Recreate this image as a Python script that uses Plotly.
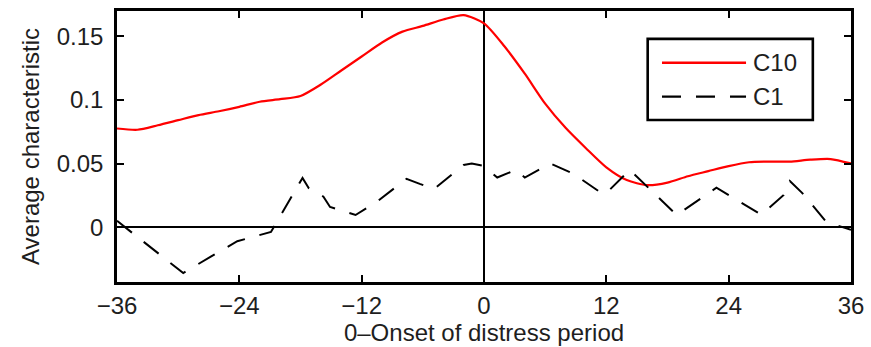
import plotly.graph_objects as go

# Months relative to the onset of the distress period
months_c10 = [-36, -34, -32, -30, -28, -26, -24, -22, -20, -18, -16, -14, -12,
              -10, -8, -6, -4, -2, 0, 2, 4, 6, 8, 10, 12, 14, 16, 18, 20, 22,
              24, 26, 28, 30, 32, 34, 36]
c10_values = [0.0775, 0.0765, 0.080, 0.084, 0.088, 0.091, 0.0945, 0.0985,
              0.1005, 0.103, 0.112, 0.123, 0.134, 0.145, 0.1535, 0.158, 0.163,
              0.1665, 0.160, 0.142, 0.1205, 0.097, 0.078, 0.062, 0.047, 0.037,
              0.033, 0.035, 0.040, 0.044, 0.048, 0.051, 0.0515, 0.0515, 0.053,
              0.0535, 0.050]

months_c1 = [-36, -29.5, -26.8, -24.2, -20.9, -17.8, -17.2, -15.75, -15.1,
             -13.3, -12.6, -10.5, -7.6, -6.3, -4.9, -2.0, -1.2, 0, 1.3, 3.1,
             4.0, 6.5, 8.7, 11.3, 11.9, 14.3, 18.9, 22.8, 27.2, 29.4, 30.0,
             31.2, 33.6, 36]
c1_values = [0.005, -0.036, -0.023, -0.011, -0.0037, 0.0387, 0.0308, 0.024,
             0.0159, 0.011, 0.0096, 0.020, 0.038, 0.034, 0.030, 0.0488, 0.050,
             0.048, 0.039, 0.045, 0.039, 0.050, 0.0423, 0.028, 0.026, 0.045,
             0.0096, 0.031, 0.0098, 0.0253, 0.0363, 0.027, 0.004, -0.002]

x_ticks = [-36, -24, -12, 0, 12, 24, 36]
y_ticks = [0, 0.05, 0.1, 0.15]
y_tick_text = ["0", "0.05", "0.1", "0.15"]

FONT = "Liberation Sans, Arial, Helvetica, sans-serif"
TXT = "#1e1e1e"
FS = 24
C10_COLOR = "#ff0000"
C1_DASH = "19px,15px"

fig = go.Figure()
fig.add_trace(go.Scatter(
    x=months_c10, y=c10_values, mode="lines", name="C10",
    line=dict(color=C10_COLOR, width=2.2, shape="spline", smoothing=0.7),
    showlegend=False))
fig.add_trace(go.Scatter(
    x=months_c1, y=c1_values, mode="lines", name="C1",
    line=dict(color="black", width=2, dash=C1_DASH),
    showlegend=False))

axis_common = dict(
    showgrid=False, showline=True, linecolor="black", linewidth=2.6,
    mirror="ticks", ticks="inside", ticklen=7, tickwidth=2.4,
    tickcolor="black", zeroline=True, zerolinecolor="black",
    zerolinewidth=2.4, tickfont=dict(family=FONT, size=FS, color=TXT),
)

fig.update_xaxes(
    range=[-36, 36], tickvals=x_ticks, ticklabelstandoff=0,
    title=dict(text="0\u2013Onset of distress period",
               font=dict(family=FONT, size=FS, color=TXT), standoff=2),
    **axis_common)
fig.update_yaxes(
    range=[-0.043, 0.1697], tickvals=y_ticks, ticktext=y_tick_text,
    ticklabelstandoff=6,
    title=dict(text="Average characteristic",
               font=dict(family=FONT, size=FS, color=TXT), standoff=11),
    **axis_common)

# Legend box drawn in paper coordinates
legend_shapes = [
    dict(type="rect", xref="paper", yref="paper", x0=0.723, x1=0.948,
         y0=0.598, y1=0.897, line=dict(color="black", width=2.6),
         fillcolor="white", layer="above"),
    dict(type="line", xref="paper", yref="paper", x0=0.7425, x1=0.857,
         y0=0.809, y1=0.809, line=dict(color=C10_COLOR, width=2.6),
         layer="above"),
    dict(type="line", xref="paper", yref="paper", x0=0.7425, x1=0.857,
         y0=0.684, y1=0.684, line=dict(color="black", width=2.4, dash=C1_DASH),
         layer="above"),
]
legend_labels = [
    dict(text="C10", x=0.864, y=0.809, xref="paper", yref="paper",
         xanchor="left", yanchor="middle", showarrow=False,
         font=dict(family=FONT, size=FS, color=TXT)),
    dict(text="C1", x=0.864, y=0.684, xref="paper", yref="paper",
         xanchor="left", yanchor="middle", showarrow=False,
         font=dict(family=FONT, size=FS, color=TXT)),
]

fig.update_layout(
    width=871, height=347,
    margin=dict(l=117, r=20, t=11, b=65, autoexpand=False),
    paper_bgcolor="white", plot_bgcolor="white",
    shapes=legend_shapes, annotations=legend_labels,
)

fig.write_html("out.html")
